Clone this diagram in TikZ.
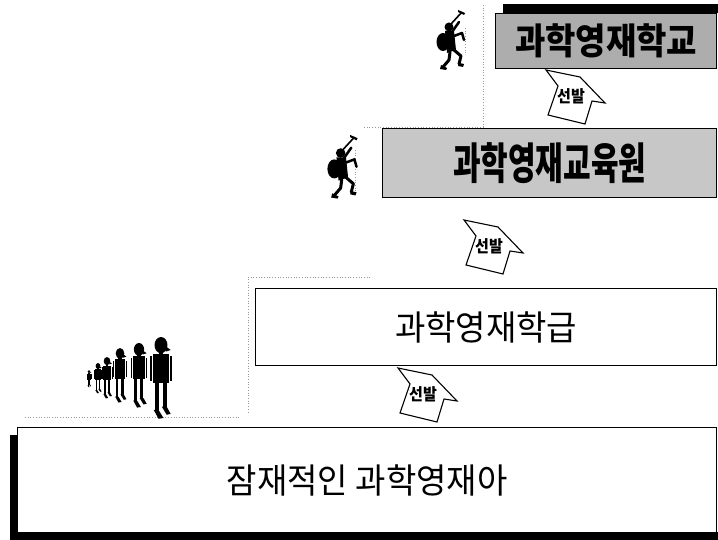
\documentclass[tikz,border=0pt]{standalone}
\usepackage{graphicx}
\usepackage{fontspec}
\newfontfamily\kr{Noto Sans CJK KR}
\begin{document}
\begin{tikzpicture}[x=1pt,y=-1pt,
  guide/.style={black!40, line width=0.7pt, dotted},
  tier/.style={draw=black, line width=1.4pt, anchor=north west, inner sep=0pt, font=\kr},
  band/.style={fill=black, draw=none},
  selarrow/.pic={
    \draw[line width=1.1pt, fill=white, line join=miter]
      (-34,-7) -- (0,0) -- (25,26) -- (12,24) -- (5,47) -- (-32,38) -- (-22,9) -- cycle;
    \node[font=\kr\bfseries\fontsize{15}{15}\selectfont, inner sep=0pt] (-lbl) at (-9,19)
      {\scalebox{1}[1.1]{선발}};
  },
  person/.pic={
    \fill (0,10) ellipse [x radius=8, y radius=10];
    \fill (5,11) -- (12,16) -- (6,18) -- cycle;
    \fill (-3,17) rectangle (3,23);
    \fill (-10,21) rectangle (10,57);
    \fill (-13,24) rectangle (-11,54);
    \fill (11,24) rectangle (13,54);
    \fill (-8,56) rectangle (-3,92);
    \fill (2,56) rectangle (7,88);
    \fill (-9,90) -- (-3,90) -- (3,100) -- (-3,101) -- cycle;
    \fill (1,86) -- (7,86) -- (12,95) -- (7,96) -- cycle;
  },
  climber/.pic={
    \draw[line width=1.6pt] (13,14) -- (24,2);
    \fill (20,0) -- (27,3) -- (26,5) -- (20,2) -- cycle;
    \fill (11,17) circle [radius=4.5];
    \draw[line width=2.5pt, line cap=round] (14,22) -- (21,12);
    \fill (7,21) -- (16,21) -- (18,40) -- (9,43) -- cycle;
    \fill (5,32) ellipse [x radius=6.5, y radius=9];
    \draw[line width=2.5pt, line cap=round, line join=round] (16,26) -- (24,23) -- (26,30);
    \draw[line width=3pt, line cap=round, line join=round] (16,40) -- (23,46) -- (21,54);
    \draw[line width=3pt, line cap=round, line join=round] (12,42) -- (11,50) -- (5,57);
    \fill (21,53) -- (26,54) -- (25,57) -- (20,56) -- cycle;
    \fill (3,55) -- (9,58) -- (8,60) -- (2,59) -- cycle;
  }]
\useasboundingbox (0,0) rectangle (718,540);
\clip (0,0) rectangle (718,540);

% dotted step guides
\draw[guide] (483,5) -- (483,127) -- (363,127);
\draw[guide] (370,277) -- (248,277) -- (248,412);
\draw[guide] (25,417) -- (240,417);
\draw[guide] (465,28) -- (465,55);
\draw[guide] (355,150) -- (355,195);

% shadow bands
\fill[band] (503,4) rectangle (718,13);
\fill[band] (10,435) rectangle (17,540);
\fill[band] (10,532) rectangle (718,540);

% the four tiers
\node[tier, fill=black!32, minimum width=221pt, minimum height=55pt] (school) at (495,13)
  {\bfseries\fontsize{33}{33}\selectfont\scalebox{1}[1.1]{과학영재학교}};
\node[tier, fill=black!22, minimum width=334pt, minimum height=69pt] (institute) at (382,128)
  {\bfseries\fontsize{30}{30}\selectfont\scalebox{1}[1.45]{과학영재교육원}};
\node[tier, fill=white, minimum width=461pt, minimum height=77pt] (class) at (255,288)
  {\fontsize{33}{33}\selectfont\scalebox{1}[1.05]{과학영재학급}};
\node[tier, fill=white, minimum width=699pt, minimum height=105pt] (pool) at (17,427)
  {\fontsize{33}{33}\selectfont\scalebox{1}[1.05]{잠재적인 과학영재아}};

% selection arrows
\pic (sel1) at (580,77) {selarrow};
\pic (sel2) at (498,227) {selarrow};
\pic (sel3) at (432,375) {selarrow};

% climbers
\pic (climbA) at (438,10) {climber};
\pic[scale=1.06] (climbB) at (329,135) {climber};

% line of people
\pic[scale=0.17] (p1) at (89,370) {person};
\pic[scale=0.30] (p2) at (98,363) {person};
\pic[scale=0.41] (p3) at (107,357) {person};
\pic[scale=0.54] (p4) at (120,348) {person};
\pic[scale=0.64] (p5) at (139,343) {person};
\pic[scale=0.81] (p6) at (161,337) {person};
\end{tikzpicture}
\end{document}
